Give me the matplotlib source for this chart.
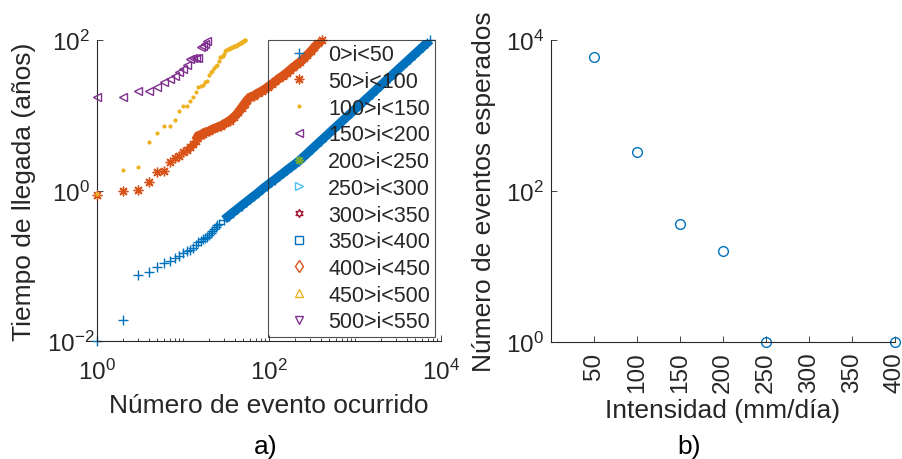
import numpy as np
import matplotlib
matplotlib.use('Agg')
import matplotlib.pyplot as plt
from matplotlib.ticker import FixedLocator, FixedFormatter, LogLocator, NullLocator, NullFormatter

plt.rcParams['font.family'] = ['Liberation Sans', 'DejaVu Sans']
plt.rcParams['mathtext.fontset'] = 'custom'
plt.rcParams['mathtext.rm'] = 'Liberation Sans'
plt.rcParams['mathtext.it'] = 'Liberation Sans:italic'
plt.rcParams['mathtext.bf'] = 'Liberation Sans:bold'

# MATLAB default colour order
BLUE = '#0072BD'
ORANGE = '#D95319'
YELLOW = '#EDB120'
PURPLE = '#7E2F8E'
GREEN = '#77AC30'
CYAN = '#4DBEEE'
DRED = '#A2142F'
INK = '#262626'

rangos = ['0>i<50', '50>i<100', '100>i<150', '150>i<200', '200>i<250', '250>i<300',
          '300>i<350', '350>i<400', '400>i<450', '450>i<500', '500>i<550']

# arrival time (years) of each event, by intensity range
blue_n = [1, 2, 3, 4, 5, 6, 7, 8, 9, 10, 11, 12, 13, 14, 15, 16, 17, 18, 19, 20, 21, 22, 23, 24, 25,
          26, 30, 34, 38, 43, 48, 54, 60, 67, 75, 84, 94, 105, 117, 130, 145, 162, 181, 202, 225,
          250, 280, 315, 355, 400, 450, 505, 565, 635, 710, 795, 890, 1000, 1120, 1250, 1400, 1570,
          1760, 1970, 2210, 2470, 2770, 3100, 3470, 3890, 4350, 4870, 5450, 6100, 6830, 7450]
blue_t = [0.010, 0.019, 0.075, 0.082, 0.096, 0.109, 0.116, 0.126, 0.136, 0.148, 0.155, 0.162, 0.171,
          0.19, 0.209, 0.215, 0.227, 0.232, 0.239, 0.26, 0.27, 0.29, 0.31, 0.33, 0.35,
          0.36, 0.41, 0.46, 0.51, 0.57, 0.63, 0.70, 0.77, 0.85, 0.94, 1.05, 1.16, 1.28, 1.40, 1.54,
          1.69, 1.87, 2.06, 2.26, 2.49, 2.78, 3.13, 3.55, 4.03, 4.57, 5.17, 5.84, 6.58, 7.43, 8.37,
          9.44, 10.6, 12.0, 13.5, 15.2, 17.1, 19.3, 21.8, 24.6, 27.8, 31.2, 35.1, 39.6, 44.6, 50.3,
          56.6, 63.7, 71.7, 80.6, 90.8, 100]

orange_n = [1, 2, 3, 4, 5, 6, 7, 8, 9, 10, 11, 12, 13, 14, 15, 16, 17, 18,
            20, 22, 25, 28, 31, 35, 39, 44, 48, 52, 56, 60, 67, 74, 82, 90, 98, 108, 119, 131,
            145, 160, 176, 192, 212, 232, 255, 280, 308, 338, 370, 410]
orange_t = [0.87, 0.99, 1.03, 1.31, 1.78, 1.83, 2.37, 2.68, 2.90, 3.22, 3.45, 3.75, 4.15, 4.6, 5.35,
            5.5, 5.7, 5.93, 6.1, 6.5, 6.9, 7.3, 7.8, 8.5, 9.4, 10.9, 12.6, 14.3, 15.9, 17.3, 18.3,
            19.6, 20.9, 22.3, 24.0, 26.0, 28.2, 30.8, 33.5, 36.5, 40.0, 43.5, 47.5, 51.5, 57.0,
            63.5, 71.0, 80.0, 90.0, 100]

yellow_t = [0.90, 1.89, 2.05, 4.37, 5.75, 7.26, 7.26, 8.57, 11.3, 13.2, 13.2, 15.3, 17.3, 20.6,
            23.5, 24.7, 25.5, 27.4, 28.5, 34.6, 37, 39, 42, 45.6, 47, 52, 58.9, 60, 61.9, 66, 72,
            74, 75.9, 77, 78, 79, 80, 81, 82, 83, 84, 85, 86.5, 88, 89, 90.5, 92, 93.5, 95, 96,
            97.5, 99, 100]

purple_t = [17.3, 17.3, 21.2, 20.8, 23.5, 27.4, 30.3, 33.6, 37.2, 41.2, 47, 55.9, 57, 57.6, 58,
            81.5, 84, 88, 96]

# expected number of events per intensity
intensidad = [50, 100, 150, 200, 250, 400]
eventos = [6000, 330, 36, 16, 1, 1]

fig = plt.figure(figsize=(9.03, 4.6), dpi=100)
W, H = 903.0, 460.0
ax1 = fig.add_axes([97 / W, 1 - 342 / H, 344 / W, 301 / H])
ax2 = fig.add_axes([551 / W, 1 - 343 / H, 344 / W, 302 / H])

# --- a) arrival times ---
ax1.plot(blue_n[26:], blue_t[26:], '-', color=BLUE, lw=6.5, solid_capstyle='butt', zorder=2)
ax1.plot(blue_n, blue_t, ls='none', marker='+', ms=7, mew=1, color=BLUE,
         label=rangos[0], clip_on=False, zorder=2)
ax1.plot(orange_n[13:], orange_t[13:], '-', color=ORANGE, lw=6.5, solid_capstyle='butt', zorder=3)
ax1.plot(orange_n, orange_t, ls='none', marker=(8, 2, 0), ms=7, mew=1, color=ORANGE,
         label=rangos[1], clip_on=False, zorder=3)
ax1.plot(np.arange(1, len(yellow_t) + 1), yellow_t, ls='none', marker='.', ms=4, color=YELLOW,
         label=rangos[2], clip_on=False, zorder=4)
ax1.plot(np.arange(1, len(purple_t) + 1), purple_t, ls='none', marker='<', ms=6, mew=1,
         mfc='none', mec=PURPLE, label=rangos[3], clip_on=False, zorder=5)

# ranges with no events still show up in the legend
vacias = [((8, 2, 0), GREEN), ('>', CYAN), ((6, 1, 0), DRED), ('s', BLUE),
          ('d', ORANGE), ('^', YELLOW), ('v', PURPLE)]
for lab, (mk, col) in zip(rangos[4:], vacias):
    ax1.plot([], [], ls='none', marker=mk, ms=6, mew=1, mfc='none', mec=col, color=col, label=lab)

ax1.set_xscale('log')
ax1.set_yscale('log')
ax1.set_xlim(1, 1e4)
ax1.set_ylim(1e-2, 1e2)
ax1.xaxis.set_major_locator(FixedLocator([1, 1e2, 1e4]))
ax1.xaxis.set_major_formatter(FixedFormatter([r'$10^{0}$', r'$10^{2}$', r'$10^{4}$']))
ax1.xaxis.set_minor_locator(LogLocator(base=10, subs=np.arange(1, 10), numticks=30))
ax1.xaxis.set_minor_formatter(NullFormatter())
ax1.yaxis.set_major_locator(FixedLocator([1e-2, 1, 1e2]))
ax1.yaxis.set_major_formatter(FixedFormatter([r'$10^{-2}$', r'$10^{0}$', r'$10^{2}$']))
ax1.yaxis.set_minor_locator(NullLocator())

leg = ax1.legend(loc='upper left', bbox_to_anchor=(268 / W, 1 - 41 / H),
                 bbox_transform=fig.transFigure, borderaxespad=0, fontsize=15.5,
                 fancybox=False, edgecolor=INK, facecolor='none', handlelength=2.5,
                 handletextpad=0.1, borderpad=0.2, labelspacing=0.265, numpoints=1)
leg.get_frame().set_linewidth(0.8)
for txt in leg.get_texts():
    txt.set_color(INK)

# --- b) expected events ---
ax2.plot(intensidad, eventos, ls='none', marker='o', ms=7, mew=1, mfc='none', mec=BLUE,
         clip_on=False)
ax2.set_yscale('log')
ax2.set_xlim(0, 400)
ax2.set_ylim(1, 1e4)
ax2.xaxis.set_major_locator(FixedLocator([50, 100, 150, 200, 250, 300, 350, 400]))
ax2.xaxis.set_major_formatter(FixedFormatter(['50', '100', '150', '200', '250', '300', '350', '400']))
ax2.yaxis.set_major_locator(FixedLocator([1, 1e2, 1e4]))
ax2.yaxis.set_major_formatter(FixedFormatter([r'$10^{0}$', r'$10^{2}$', r'$10^{4}$']))
ax2.yaxis.set_minor_locator(NullLocator())

for ax in (ax1, ax2):
    ax.spines['top'].set_visible(False)
    ax.spines['right'].set_visible(False)
    for s in ('left', 'bottom'):
        ax.spines[s].set_color(INK)
        ax.spines[s].set_linewidth(0.8)
    ax.tick_params(which='major', direction='in', length=4, width=0.6, colors=INK, labelsize=17.5)
    ax.tick_params(which='minor', direction='in', length=2.5, width=0.6, colors=INK)
    ax.tick_params(axis='y', pad=19)
    for lbl in ax.get_yticklabels():
        lbl.set_horizontalalignment('center')

ax1.tick_params(axis='x', pad=13)
ax2.tick_params(axis='x', pad=7, labelrotation=90)

# axis titles and panel letters
fig.text(269 / W, 1 - 413 / H, 'Número de evento ocurrido', fontsize=19, color=INK,
         ha='center', va='baseline')
fig.text(24 / W, 1 - 192 / H, 'Tiempo de llegada (años)', fontsize=19, color=INK,
         ha='center', va='center', rotation=90)
fig.text(723 / W, 1 - 411 / H, 'Intensidad (mm/día)', fontsize=19, color=INK,
         ha='center', va='center')
fig.text(484 / W, 1 - 192 / H, 'Número de eventos esperados', fontsize=19, color=INK,
         ha='center', va='center', rotation=90)
fig.text(266 / W, 1 - 447 / H, 'a)', fontsize=19, color='black', ha='center', va='center')
fig.text(689 / W, 1 - 447 / H, 'b)', fontsize=19, color='black', ha='center', va='center')

fig.savefig('out.png', dpi=100)
